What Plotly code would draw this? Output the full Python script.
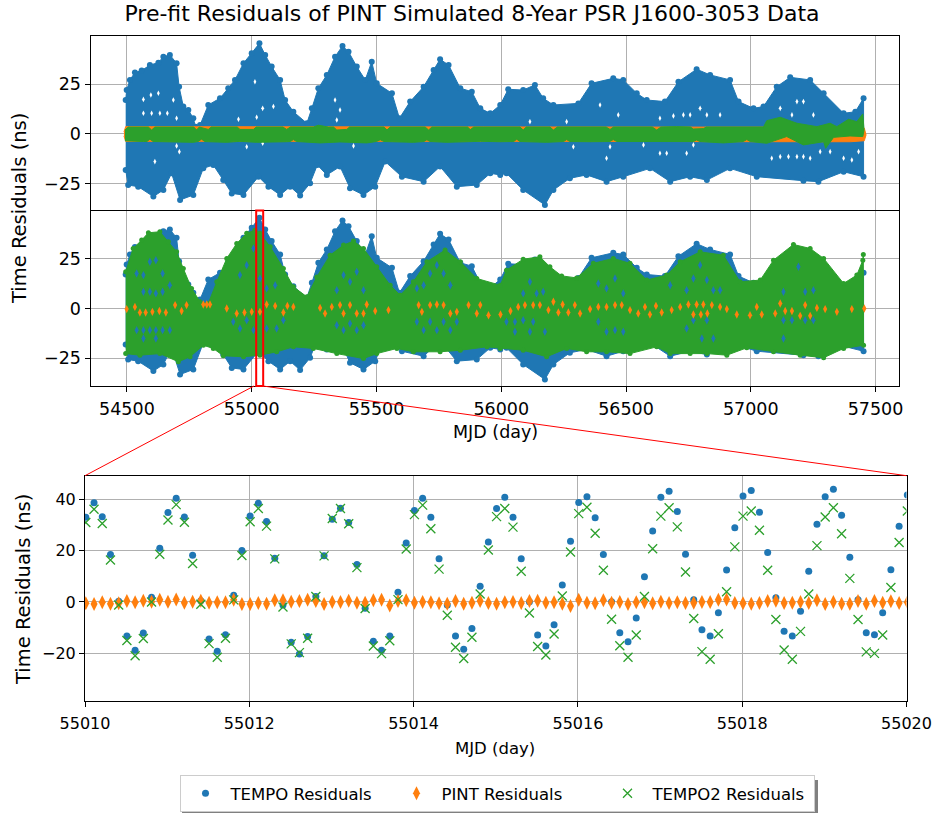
import plotly.graph_objects as go

W, H = 935, 814
BLUE, ORANGE, GREEN = "#1f77b4", "#ff7f0e", "#2ca02c"

# ---------- whole-span envelopes (MJD, ns) ----------
tempo_up_x = [54495,54499,54512,54532,54559,54592,54626,54646,54672,54699,54709,54726,54746,54766,54775,54793,54826,54873,54906,54933,54967,55000,55031,55054,55080,55114,55134,55167,55221,55241,55267,55301,55334,55364,55388,55421,55455,55481,55501,55562,55592,55635,55689,55729,55755,55789,55836,55882,55916,55956,55996,56028,56088,56135,56168,56209,56309,56362,56449,56489,56543,56583,56656,56710,56783,56837,56917,56951,57011,57051,57104,57158,57238,57292,57372,57419,57452]
tempo_up_y = [17.1,22.1,27.2,30.9,31.9,34.7,35.9,38.9,39.8,35.6,23.8,13.8,12.1,7.9,3.7,4.5,14.6,18.0,23.0,27.2,35.6,40.6,45.6,39.8,33.9,27.2,17.1,11.2,5.4,12.9,23.0,29.7,38.9,44.3,41.4,33.9,27.2,36.4,25.5,20.5,7.9,16.3,23.8,32.2,37.6,34.7,23.0,21.3,12.9,10.4,14.6,22.5,22.1,24.7,18.0,14.6,15.4,25.5,28.0,27.2,20.5,17.1,16.3,26.3,32.6,29.7,27.2,16.3,12.9,13.8,23.8,28.5,27.2,20.5,10.4,11.2,18.0]
tempo_lo_x = [54495,54505,54545,54606,54646,54679,54713,54766,54806,54846,54886,54920,54967,55027,55067,55114,55154,55194,55234,55263,55301,55354,55394,55448,55495,55535,55602,55689,55755,55822,55902,55956,55996,56021,56088,56175,56209,56275,56342,56422,56489,56596,56677,56757,56824,56917,57024,57211,57271,57372,57452]
tempo_lo_y = [-18.1,-25.7,-26.5,-31.5,-28.2,-19.8,-33.2,-30.7,-17.3,-15.6,-23.2,-29.9,-30.7,-21.5,-26.5,-30.7,-26.5,-31.0,-24.8,-15.6,-20.6,-16.4,-27.3,-30.7,-26.5,-13.9,-21.5,-24.0,-16.4,-26.5,-25.7,-19.8,-20.6,-19.8,-28.2,-35.7,-28.2,-22.3,-20.6,-24.0,-21.5,-17.3,-24.0,-21.5,-23.2,-17.3,-21.5,-23.5,-24.0,-19.0,-21.5]

pint_up_x = [54488,54495,54600,54800,55000,55200,55400,55600,55800,56000,56200,56400,56600,56800,57000,57200,57400,57455,57462]
pint_up_y = [1.0,3.7,3.7,3.7,3.7,3.7,3.7,3.7,3.7,3.7,3.7,3.7,3.7,3.7,3.6,3.4,3.4,3.0,0.5]
pint_lo_x = [54488,54495,54600,54800,55000,55200,55400,55600,55800,56000,56200,56400,56600,56800,57000,57200,57400,57455,57462]
pint_lo_y = [-1.0,-3.7,-3.7,-3.7,-3.7,-3.7,-3.7,-3.7,-3.7,-3.7,-3.7,-3.7,-3.7,-3.7,-3.8,-3.9,-3.9,-3.4,-0.5]

tempo2_a_up_x = [54492,54505,54572,54586,54599,54612,54632,54753,54768,54779,
                 54790,54826,54838,54873,54926,54942,54953,55007,55018,55033,
                 55100,55125,55140,55155,55247,55267,55308,55328,55341,55381,
                 55392,55421,55515,55530,55542,55555,55582,55662,55695,55709,
                 55722,55755,55836,55865,55876,55890,55929,55996,56048,56075,
                 56088,56100,56128,56195,56209,56225,56249,56356,56420,56436,
                 56450,56516,56605,56623,56640,56703,56758,56770,56810,56822,
                 56890,57051,57064,57118,57185,57265,57318,57345,57392,57425,
                 57449,57454]
tempo2_a_up_y = [2.0,3.5,3.5,3.5,2.0,3.5,3.5,3.5,3.5,2.0,
                 3.5,2.3,3.5,3.5,3.5,3.5,2.3,2.3,3.5,3.5,
                 3.5,3.5,2.3,3.5,3.5,4.4,3.5,3.5,2.0,2.3,
                 3.5,3.5,3.5,3.5,2.0,3.5,3.5,3.5,3.5,2.0,
                 3.5,3.5,3.5,3.5,2.2,3.5,3.5,3.5,3.5,3.5,
                 2.0,3.5,3.5,3.5,2.0,3.5,3.5,3.7,3.5,2.3,
                 3.5,3.5,3.5,2.0,3.5,3.7,3.5,2.5,2.7,3.5,
                 3.5,3.5,6.7,8.4,5.4,3.7,5.4,3.7,7.4,6.2,
                 10.1,2.0]
tempo2_a_lo_x = [54492,54566,54580,54592,54605,54766,54785,54799,54812,54826,
                 54900,54953,55020,55140,55155,55167,55180,55221,55274,55354,
                 55461,55500,55515,55530,55568,55648,55690,55702,55715,55782,
                 55916,55996,56050,56062,56075,56182,56250,56262,56275,56356,
                 56435,56449,56463,56543,56650,56770,56783,56796,56890,56970,
                 56984,56998,57064,57144,57211,57292,57300,57332,57398,57449,
                 57454]
tempo2_a_lo_y = [-3.4,-3.8,-3.8,-2.6,-3.8,-4.2,-3.8,-2.6,-3.8,-3.9,
                 -4.2,-3.7,-4.2,-3.9,-3.8,-2.8,-3.8,-4.0,-4.5,-4.0,
                 -4.5,-3.8,-2.9,-3.8,-4.0,-4.2,-3.8,-2.9,-3.8,-4.2,
                 -3.7,-3.9,-3.8,-2.6,-3.8,-4.2,-3.8,-2.8,-3.8,-3.9,
                 -3.8,-2.8,-3.8,-4.0,-3.9,-3.8,-3.0,-3.8,-4.5,-3.8,
                 -2.8,-3.8,-4.7,-1.3,-5.5,-3.9,-7.2,-1.7,-1.0,-1.3,
                 2.0]

tempo2_b_up_x = [54495,54525,54559,54586,54632,54666,54699,54726,54759,54793,54826,54860,54900,54940,54980,55013,55033,55074,55127,55167,55221,55261,55314,55368,55408,55448,55501,55555,55595,55648,55702,55775,55836,55902,55996,56021,56088,56155,56195,56242,56302,56369,56449,56516,56583,56663,56717,56797,56890,56957,57038,57091,57171,57238,57292,57372,57425,57449,57451]
tempo2_b_up_y = [18.5,30.2,34.4,38.1,38.6,33.6,28.5,20.1,10.1,3.4,2.5,13.4,25.2,32.7,37.8,39.4,37.8,31.0,20.1,10.9,5.9,15.9,26.8,31.9,33.9,30.2,21.0,11.7,6.7,13.4,23.5,29.4,23.5,15.1,11.7,19.3,24.8,26.0,21.0,16.4,15.4,22.7,25.2,22.7,14.3,16.8,23.5,28.5,26.8,13.4,14.3,24.3,32.2,30.2,25.2,12.6,16.8,24.3,27.2]
tempo2_b_lo_x = [54495,54552,54632,54706,54753,54806,54846,54886,54967,55033,55100,55167,55247,55341,55448,55501,55582,55648,55755,55836,55943,55996,56088,56182,56262,56342,56422,56516,56623,56677,56757,56824,56904,56984,57091,57198,57292,57372,57452]
tempo2_b_lo_y = [-22.7,-23.5,-22.7,-26.8,-24.3,-18.5,-20.1,-23.8,-24.3,-23.5,-21.8,-19.3,-20.1,-22.7,-25.2,-22.7,-20.1,-21.8,-21.8,-21.0,-19.3,-20.1,-21.0,-24.3,-20.1,-21.8,-21.8,-22.7,-19.3,-22.7,-22.7,-22.7,-23.5,-19.8,-21.8,-23.5,-24.8,-20.1,-18.5]

pint_speck_x = [54499,54532,54552,54575,54602,54630,54656,54693,54719,54739,54806,54820,54833,54900,54940,54971,55000,55033,55060,55094,55127,55143,55167,55274,55294,55321,55354,55368,55394,55421,55448,55461,55495,55548,55669,55682,55715,55742,55769,55796,55822,55869,55902,55916,55949,55997,56037,56068,56095,56128,56155,56189,56209,56229,56246,56269,56295,56316,56356,56389,56422,56456,56483,56516,56549,56576,56596,56620,56643,56683,56717,56750,56770,56783,56800,56810,56826,56844,56877,56904,56944,56997,57024,57044,57098,57118,57138,57165,57198,57218,57238,57265,57298,57345,57405,57455]
pint_speck_y = [-0.3,0.8,-2.0,-2.0,-1.7,-1.3,-2.0,1.7,-1.3,1.7,2.0,2.0,2.0,0.0,-2.5,-2.0,-1.7,-1.7,2.0,1.3,-2.0,1.3,0.8,0.3,-2.5,0.8,1.7,-2.5,1.7,-2.5,-2.5,2.0,-1.3,-0.8,1.7,-1.7,1.7,2.0,1.7,-2.5,-1.7,1.7,-2.5,1.7,-3.4,-3.0,-1.3,0.8,1.7,1.7,1.7,-0.8,3.4,-2.0,2.0,-2.0,1.7,-2.5,-0.3,0.8,0.8,1.7,1.7,-0.8,-2.5,0.8,-3.0,1.3,-2.0,-0.8,0.8,2.0,-3.0,2.0,-3.0,2.0,-2.5,1.7,0.8,-0.3,-3.0,-3.4,0.8,-3.0,-2.5,2.5,-1.3,-1.3,-3.7,1.7,-3.7,0.3,-0.3,-1.7,-0.3,0.0]

tempo_speck_x = [54539,54566,54592,54616,54643,54566,54592,54616,54643,54672,54539,54566,54592,54616,54643,54672,54566,54616,54926,54953,54980,55007,54953,54980,55007,55033,55060,55094,55060,55100,55127,55341,55368,55394,55421,55448,55341,55368,55394,55421,55448,55662,55689,55715,55742,55769,55796,55662,55689,55715,55742,55769,55796,55822,56021,56055,56088,56128,56088,56115,56142,56168,56055,56115,56175,56389,56422,56456,56489,56389,56422,56456,56489,56677,56743,56770,56797,56824,56850,56743,56770,56804,56824,56850,56877,57131,57191,57218,57251,57131,57131,57165,57218,57251]
tempo_speck_y = [17.6,16.8,23.5,24.3,17.6,8.4,8.4,7.6,8.4,11.7,-10.9,-10.9,-10.9,-10.9,-10.9,-10.9,-15.1,-15.1,-6.7,-10.1,-5.9,-10.9,16.8,21.8,30.2,15.1,10.1,11.7,-10.1,-10.1,-5.9,9.2,16.8,13.4,18.5,9.2,-8.4,-10.9,-7.6,-10.9,-8.4,10.1,11.7,17.6,21.8,17.6,11.7,-6.7,-10.9,-6.7,-10.9,-6.7,-10.9,-6.7,-6.7,-6.7,-5.9,-6.7,7.6,13.4,7.6,8.4,-11.7,-11.7,-11.7,12.6,10.1,15.1,7.6,-6.7,-11.7,-10.9,-11.7,11.7,9.2,15.1,21.8,14.3,9.2,-10.1,-5.9,-15.1,-5.9,-15.1,9.2,8.4,21.0,8.4,9.2,-5.9,-15.1,-5.9,-5.9,-5.9]

gap_x = [54566,54596,54626,54686,54566,54599,54632,54662,54699,55013,55044,55020,54947,54699,54710,54980,55044,54612,55087,55334,55354,55408,55341,56396,56469,56730,56757,56797,56824,56877,57118,57165,57185,57211,57251,57084,57118,57151,57185,57211,57238,57278,57318,57372,57405,57432,56289,56436,56422,56570,56636,56663,56743,56770,56115,56262,56636,56690]
gap_y = [17.4,19.6,20.5,17.1,10.4,10.4,10.4,10.4,7.9,26.3,12.9,8.4,7.4,-6.0,-8.9,-6.4,-4.7,-13.9,13.8,17.1,12.1,-6.0,7.0,14.6,9.6,9.6,9.6,12.9,9.6,9.6,12.9,9.6,16.3,16.3,9.6,-12.2,-11.4,-11.4,-11.4,-11.4,-12.2,-8.9,-8.9,-12.2,-13.1,-8.9,-6.4,-6.4,-12.2,-5.5,-9.7,-9.7,-9.7,-5.5,6.2,6.2,7.9,9.1]

# ---------- 10-day zoom ----------
zoom_mjd = [55010.01,55010.11,55010.21,55010.31,55010.41,55010.51,55010.61,55010.71,55010.81,55010.91,
            55011.01,55011.11,55011.21,55011.31,55011.41,55011.51,55011.61,55011.71,55011.81,55011.91,
            55012.01,55012.11,55012.21,55012.31,55012.41,55012.51,55012.61,55012.71,55012.81,55012.91,
            55013.01,55013.11,55013.21,55013.31,55013.41,55013.51,55013.61,55013.71,55013.81,55013.91,
            55014.01,55014.11,55014.21,55014.31,55014.41,55014.51,55014.61,55014.71,55014.81,55014.91,
            55015.01,55015.11,55015.21,55015.31,55015.41,55015.51,55015.61,55015.71,55015.81,55015.91,
            55016.01,55016.11,55016.21,55016.31,55016.41,55016.51,55016.61,55016.71,55016.81,55016.91,
            55017.01,55017.11,55017.21,55017.31,55017.41,55017.51,55017.61,55017.71,55017.81,55017.91,
            55018.01,55018.11,55018.21,55018.31,55018.41,55018.51,55018.61,55018.71,55018.81,55018.91,
            55019.01,55019.11,55019.21,55019.31,55019.41,55019.51,55019.61,55019.71,55019.81,55019.91,
            55020.01]
zoom_tempo = [33.1,38.7,33.3,18.5,0.3,-13.3,-18.9,-12.1,1.8,21.0,34.9,40.5,33.2,18.2,0.5,-14.5,-19.3,-12.8,2.6,20.1,33.6,38.5,31.4,17.1,-1.2,-15.8,-20.3,-13.5,2.1,18.0,32.3,36.6,31.0,14.6,
              -2.5,-15.4,-18.9,-13.3,3.8,23.0,35.7,40.5,33.1,16.9,-1.2,-13.3,-18.5,-10.4,6.1,23.4,36.5,40.9,33.1,16.9,0.1,-12.9,-17.2,-8.9,6.6,23.7,38.8,41.1,32.9,18.5,0.1,-12.0,-15.6,
              -6.3,9.8,27.7,40.9,43.2,35.3,18.6,0.8,-10.9,-13.3,-4.2,12.5,29.0,41.4,43.5,35.0,19.3,1.6,-11.5,-13.3,-3.6,12.0,30.3,41.1,44.0,33.9,17.4,0.8,-12.0,-12.8,-4.2,12.6,29.6,41.8]
zoom_tempo2 = [31.0,36.2,30.6,16.4,-1.2,-15.1,-21.0,-14.3,0.0,18.6,32.0,38.0,31.1,15.0,-0.9,-16.3,-21.6,-14.2,0.8,18.1,31.3,36.5,29.6,16.8,-2.0,-16.4,-19.8,-14.2,2.1,18.0,32.6,36.5,30.5,13.4,
               -2.6,-17.2,-20.2,-15.2,0.9,20.7,34.1,37.8,28.6,12.8,-5.2,-17.7,-22.1,-13.8,3.1,20.3,33.3,36.5,29.2,12.0,-4.3,-17.4,-20.7,-12.5,2.3,19.5,34.5,37.0,26.8,12.4,-6.8,-17.1,-21.6,
               -12.9,2.1,20.8,33.5,36.8,29.3,11.7,-6.5,-19.4,-22.4,-12.4,4.0,21.5,33.5,35.5,28.0,12.4,-6.9,-18.8,-22.4,-11.5,3.1,22.0,33.2,36.8,26.6,9.2,-6.9,-19.5,-20.1,-12.9,5.6,23.2,35.5]
zoom_pint = [-0.5,-0.8,-0.1,-0.7,-0.5,0.4,-0.1,0.5,0.1,0.8,0.1,0.9,-0.3,0.1,0.5,-0.3,-0.1,-0.1,0.8,-0.8,-0.8,-0.4,-0.7,0.7,0.7,0.1,0.4,0.8,0.4,-0.8,0.0,0.0,0.5,-0.3,
             -0.3,0.7,0.8,-1.4,0.4,0.7,-0.3,0.0,-0.1,-0.5,-0.7,0.4,-0.7,-0.3,0.4,-0.4,-0.7,-0.1,0.0,-0.4,0.4,0.5,-0.3,-0.1,-0.7,-1.6,0.8,-0.3,-0.5,0.7,-0.3,0.0,-0.8,
             -0.1,-0.1,-0.5,0.1,-0.4,-0.1,-0.4,-0.3,0.0,0.0,0.8,0.9,-0.4,-0.5,-0.7,-0.4,0.4,0.5,-0.4,-0.3,0.0,-0.4,0.7,-0.8,0.0,-0.7,-0.7,0.4,-0.7,0.4,-0.3,0.3,-0.4,-0.1]

title_text = "Pre-fit Residuals of PINT Simulated 8-Year PSR J1600-3053 Data"
ytitle = "Time Residuals (ns)"
xtitle = "MJD (day)"
names = ["TEMPO Residuals", "PINT Residuals", "TEMPO2 Residuals"]
wide_ticks = [54500,55000,55500,56000,56500,57000,57500]
wide_yticks = [-25,0,25]
zoom_xticks = [55010,55012,55014,55016,55018,55020]
zoom_yticks = [-20,0,20,40]

FONT = "DejaVu Sans"
fig = go.Figure()

def band(xa, ya, xb, yb, color, xax, yax, msize=0):
    fig.add_trace(go.Scatter(x=xa + xb[::-1], y=ya + yb[::-1], mode="lines+markers" if msize else "lines",
                             fill="toself", fillcolor=color, line=dict(color=color, width=1),
                             marker=dict(size=msize or 1, color=color), xaxis=xax, yaxis=yax,
                             showlegend=False, hoverinfo="skip"))

def specks(x, y, color, xax, yax, symbol="diamond-tall", size=6):
    fig.add_trace(go.Scatter(x=x, y=y, mode="markers", marker=dict(symbol=symbol, size=size, color=color),
                             xaxis=xax, yaxis=yax, showlegend=False, hoverinfo="skip"))

# panel 1
band(tempo_up_x, tempo_up_y, tempo_lo_x, tempo_lo_y, BLUE, "x", "y", 6)
specks(gap_x, gap_y, "white", "x", "y", size=4)
band(pint_up_x, pint_up_y, pint_lo_x, pint_lo_y, ORANGE, "x", "y")
band(tempo2_a_up_x, tempo2_a_up_y, tempo2_a_lo_x, tempo2_a_lo_y, GREEN, "x", "y")
# panel 2
band(tempo_up_x, tempo_up_y, tempo_lo_x, tempo_lo_y, BLUE, "x2", "y2", 6)
band(tempo2_b_up_x, tempo2_b_up_y, tempo2_b_lo_x, tempo2_b_lo_y, GREEN, "x2", "y2", 5)
specks(tempo_speck_x, tempo_speck_y, BLUE, "x2", "y2")
specks(pint_speck_x, pint_speck_y, ORANGE, "x2", "y2")
# panel 3
fig.add_trace(go.Scatter(x=zoom_mjd, y=zoom_tempo, mode="markers", name=names[0],
                         marker=dict(symbol="circle", size=7, color=BLUE), xaxis="x3", yaxis="y3"))
fig.add_trace(go.Scatter(x=zoom_mjd, y=zoom_pint, mode="markers", name=names[1],
                         marker=dict(symbol="diamond-tall", size=10, color=ORANGE), xaxis="x3", yaxis="y3"))
fig.add_trace(go.Scatter(x=zoom_mjd, y=zoom_tempo2, mode="markers", name=names[2],
                         marker=dict(symbol="x-thin", size=9, color=GREEN, line=dict(color=GREEN, width=1.3)),
                         xaxis="x3", yaxis="y3"))

def dom(a, b, n):
    return [a / n, b / n]

common = dict(showline=True, linecolor="black", linewidth=1, mirror=True, showgrid=True, automargin=False,
              gridcolor="#b0b0b0", gridwidth=1, zeroline=False,
              tickfont=dict(family=FONT, size=17.5, color="black"), ticklen=5, tickcolor="black", tickwidth=1)

def text_at(text, px, py, size, angle=0):
    return dict(text=text, xref="paper", yref="paper", x=px / W, y=1 - py / H, textangle=angle,
                showarrow=False, xanchor="center", yanchor="middle",
                font=dict(family=FONT, size=size, color="black"))

fig.update_layout(
    width=W, height=H, autosize=False, paper_bgcolor="white", plot_bgcolor="white",
    margin=dict(l=0, r=0, t=0, b=0), font=dict(family=FONT, color="black"),
    title=dict(text=title_text, x=472 / W, xanchor="center", y=1 - 13 / H, yanchor="middle",
               font=dict(family=FONT, size=22, color="black")),
    xaxis=dict(common, domain=dom(90.5, 899, W), range=[54354, 57594], tickvals=wide_ticks,
               showticklabels=False, ticks="", anchor="y", side="top", mirror=False),
    yaxis=dict(common, domain=[1 - 210.5 / H, 1 - 36 / H], range=[-38.5, 49.3], tickvals=wide_yticks,
               ticks="outside", anchor="x"),
    xaxis2=dict(common, domain=dom(90.5, 899, W), range=[54354, 57594], tickvals=wide_ticks,
                ticks="outside", anchor="y2", tickformat="d", ticklabelstandoff=2),
    yaxis2=dict(common, domain=[1 - 386 / H, 1 - 210.5 / H], range=[-39, 49.3], tickvals=wide_yticks,
                ticks="outside", anchor="x2"),
    xaxis3=dict(common, domain=dom(85, 906.5, W), range=[55010, 55020], tickvals=zoom_xticks,
                ticks="outside", anchor="y3", tickformat="d", ticklabelstandoff=3,
                tickfont=dict(family=FONT, size=16, color="black")),
    yaxis3=dict(common, domain=[1 - 701 / H, 1 - 475.7 / H], range=[-38.7, 49.3], tickvals=zoom_yticks,
                ticks="outside", anchor="x3",
                tickfont=dict(family=FONT, size=16, color="black")),
    legend=dict(orientation="h", x=497 / W, xanchor="center", y=1 - 793.5 / H, yanchor="middle",
                font=dict(family=FONT, size=16.5, color="black"), bordercolor="#cccccc", borderwidth=1,
                bgcolor="white", entrywidth=156, entrywidthmode="pixels", itemwidth=40, itemsizing="trace"),
    annotations=[
        text_at(ytitle, 19, 209, 19.5, -90),
        text_at(ytitle, 23, 590, 19.5, -90),
        text_at(xtitle, 495, 432, 17.5),
        text_at(xtitle, 495, 748, 16.5),
    ],
    shapes=[
        dict(type="rect", xref="paper", yref="paper", x0=182 / W, x1=818 / W, y0=1 - 813 / H, y1=1 - 780 / H,
             fillcolor="#808080", line=dict(width=0), layer="below"),
        dict(type="rect", xref="x2", yref="y2 domain", x0=55018, x1=55046, y0=0, y1=1,
             line=dict(color="red", width=2), layer="above"),
        dict(type="line", xref="paper", yref="paper", x0=254 / W, y0=1 - 386 / H, x1=85 / W, y1=1 - 475.7 / H,
             line=dict(color="red", width=1)),
        dict(type="line", xref="paper", yref="paper", x0=263 / W, y0=1 - 386 / H, x1=906.5 / W, y1=1 - 475.7 / H,
             line=dict(color="red", width=1)),
    ],
)

fig.write_html("out.html", config={"displayModeBar": False}, post_script="document.body.style.margin='0';")
